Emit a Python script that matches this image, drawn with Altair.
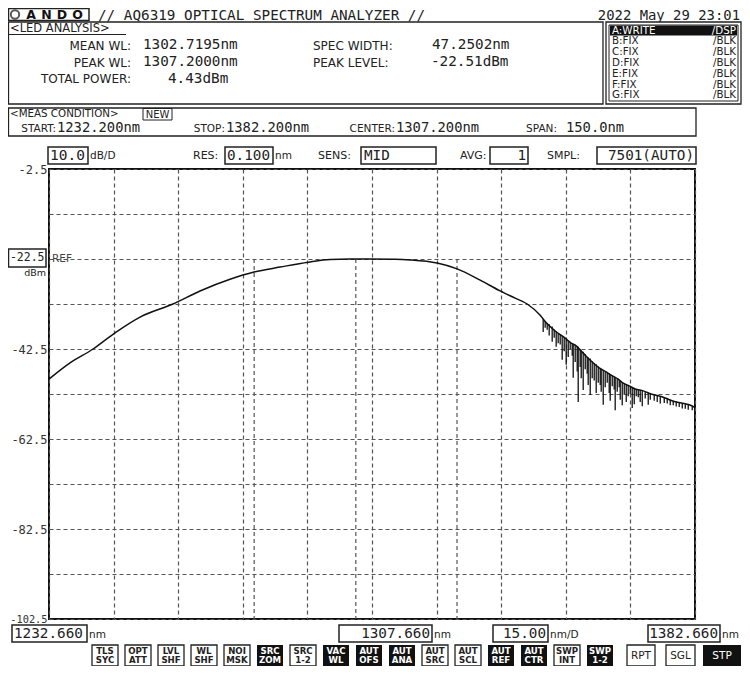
import altair as alt
import pandas as pd

# ------------------------------------------------------------------ data
wl_trace = [1232.66, 1237.54, 1242.88, 1247.99, 1253.80, 1261.46, 1267.73, 1274.70,
            1280.28, 1286.32, 1292.82, 1297.93, 1302.58, 1307.20, 1313.03, 1316.52,
            1322.79, 1327.43, 1332.78, 1337.42, 1340.90, 1343.69, 1346.71, 1347.87,
            1350.20, 1352.52, 1353.91, 1355.08, 1356.00, 1357.40, 1358.79, 1360.42,
            1362.04, 1363.21, 1364.83, 1365.99, 1367.39, 1368.78, 1370.64, 1372.50,
            1374.12, 1375.75, 1377.61, 1379.47, 1381.32, 1382.66]
dbm_trace = [-49.2, -45.6, -42.5, -38.9, -35.4, -32.5, -29.6, -27.0,
             -25.4, -24.3, -23.2, -22.6, -22.52, -22.51, -22.55, -22.7,
             -23.4, -24.7, -27.2, -29.6, -31.2, -32.5, -35.0, -36.4,
             -38.5, -40.1, -41.2, -41.8, -42.7, -44.1, -45.4, -46.7,
             -47.6, -48.3, -49.2, -50.1, -50.7, -51.4, -51.8, -52.5,
             -52.9, -53.4, -54.1, -54.5, -54.9, -55.5]

dip_wl = [1347.41, 1347.87, 1348.34, 1348.80, 1349.50, 1349.97, 1350.43, 1350.89, 1351.36, 1351.82,
          1352.29, 1352.75, 1353.22, 1353.68, 1354.15, 1354.38, 1354.84, 1355.31, 1355.54, 1356.00,
          1356.24, 1356.70, 1357.17, 1357.63, 1357.86, 1358.33, 1358.79, 1359.26, 1359.72, 1360.19,
          1360.65, 1360.88, 1361.35, 1361.81, 1362.28, 1362.74, 1362.97, 1363.44, 1363.90, 1364.13,
          1364.60, 1365.06, 1365.30, 1365.76, 1366.23, 1366.69, 1367.15, 1367.62, 1368.08, 1368.55,
          1369.01, 1369.48, 1369.94, 1370.41, 1371.10, 1371.80, 1372.27, 1373.19, 1373.89, 1374.59,
          1375.52, 1376.21, 1376.91, 1377.61, 1378.30, 1379.00, 1379.70, 1380.40, 1381.09, 1382.02]
dip_top = [-35.8, -36.4, -36.8, -37.0, -37.5, -38.2, -38.6, -39.0, -39.3, -39.6,
           -39.9, -40.3, -40.6, -40.9, -41.3, -41.4, -41.6, -41.9, -42.0, -42.5,
           -42.8, -43.1, -43.6, -44.3, -44.4, -44.6, -45.2, -45.6, -45.9, -46.4,
           -46.8, -47.0, -47.2, -47.5, -47.7, -47.9, -48.1, -48.4, -48.7, -48.8,
           -49.1, -49.4, -49.5, -49.9, -50.2, -50.4, -50.6, -50.8, -51.0, -51.2,
           -51.4, -51.5, -51.6, -51.7, -51.9, -52.2, -52.4, -52.6, -52.9, -53.0,
           -53.3, -53.5, -53.8, -54.0, -54.2, -54.4, -54.6, -54.8, -54.9, -55.2]
dip_bottom = [-38.7, -37.8, -38.2, -39.5, -40.9, -40.0, -42.0, -41.2, -41.5, -44.9,
              -43.0, -46.0, -44.3, -42.5, -44.0, -48.9, -45.4, -47.5, -54.3, -46.5,
              -49.0, -51.6, -47.0, -48.0, -50.5, -52.7, -49.0, -49.5, -52.3, -50.0,
              -50.5, -52.0, -54.9, -51.0, -50.0, -52.3, -54.0, -50.8, -51.5, -56.1,
              -52.0, -51.0, -53.8, -55.0, -52.5, -54.3, -53.0, -52.5, -55.6, -54.8,
              -53.0, -53.2, -54.3, -55.2, -53.5, -54.9, -53.8, -54.0, -54.3, -54.6,
              -54.5, -54.6, -55.0, -55.0, -55.3, -55.4, -55.7, -55.8, -56.0, -56.1]

marker_wl = [1280.3, 1303.9, 1327.4]

x_ticks = [1232.66, 1247.66, 1262.66, 1277.66, 1292.66, 1307.66,
           1322.66, 1337.66, 1352.66, 1367.66, 1382.66]
y_ticks = [-102.5, -92.5, -82.5, -72.5, -62.5, -52.5, -42.5, -32.5, -22.5, -12.5, -2.5]
y_label_vals = [-2.5, -42.5, -62.5, -82.5, -102.5]

led_labels = ["MEAN WL:", "PEAK WL:", "TOTAL POWER:"]
led_values = ["1302.7195nm", "1307.2000nm", "4.43dBm"]
led_labels2 = ["SPEC WIDTH:", "PEAK LEVEL:"]
led_values2 = ["47.2502nm", "-22.51dBm"]
traces = [("A:WRITE", "/DSP"), ("B:FIX", "/BLK"), ("C:FIX", "/BLK"), ("D:FIX", "/BLK"),
          ("E:FIX", "/BLK"), ("F:FIX", "/BLK"), ("G:FIX", "/BLK")]
buttons = [("TLS", "SYC", False), ("OPT", "ATT", False), ("LVL", "SHF", False),
           ("WL", "SHF", False), ("NOI", "MSK", False), ("SRC", "ZOM", True),
           ("SRC", "1-2", False), ("VAC", "WL", True), ("AUT", "OFS", True),
           ("AUT", "ANA", True), ("AUT", "SRC", False), ("AUT", "SCL", False),
           ("AUT", "REF", True), ("AUT", "CTR", True), ("SWP", "INT", False),
           ("SWP", "1-2", True)]

# ------------------------------------------------------------------ style
INK = "#222222"
GRID = "#555555"
LCD = "DejaVu Sans Mono"
SANS = "DejaVu Sans"
X0, Y0 = 49, 169          # page position of the plot-area origin
ONE = alt.Data(values=[{"o": 1}])

trace_df = pd.DataFrame({"wl": wl_trace, "dbm": dbm_trace})
dip_df = pd.DataFrame({"wl": dip_wl, "dbm": dip_top, "low": dip_bottom})
mark_df = pd.DataFrame({"wl": marker_wl})

x_axis = alt.Axis(values=x_ticks, grid=True, gridDash=[4, 3], gridColor=GRID, gridWidth=1.2,
                  labels=False, ticks=False, domain=False, title=None)
y_axis = alt.Axis(values=y_ticks, grid=True, gridDash=[4, 3], gridColor=GRID, gridWidth=1.2,
                  ticks=False, domain=False, title=None,
                  labelExpr="indexof(%s, datum.value) >= 0 ? '' + datum.value : ''" % str(y_label_vals),
                  labelFont=LCD,
                  labelFontSize={"condition": {"test": "datum.value < -100", "value": 10.3}, "value": 12},
                  labelColor="#333333", labelPadding=2,
                  labelOverlap=False, labelFlush=False, labelBound=False)
xs = alt.Scale(domain=[1232.66, 1382.66], nice=False, zero=False)
ys = alt.Scale(domain=[-102.5, -2.5], nice=False, zero=False)
X = alt.X("wl:Q", scale=xs, axis=x_axis)
Y = alt.Y("dbm:Q", scale=ys, axis=y_axis)

spectrum = alt.Chart(trace_df).mark_line(color="#111111", strokeWidth=1.5,
                                         interpolate="monotone").encode(x=X, y=Y)
dips = alt.Chart(dip_df).mark_rule(color="#111111", strokeWidth=1.3).encode(x=X, y=Y, y2="low:Q")
markers = alt.Chart(mark_df).mark_rule(color=GRID, strokeWidth=1.2, strokeDash=[4, 3]).encode(
    x=X, y=alt.datum(-22.5), y2=alt.datum(-102.5))

layers = [markers, spectrum, dips]


def box(x1, y1, x2, y2, fill="white", stroke=INK, sw=1.2):
    kw = dict(fill=fill)
    if stroke:
        kw.update(stroke=stroke, strokeWidth=sw)
    layers.append(alt.Chart(ONE).mark_rect(**kw).encode(
        x=alt.value(x1 - X0), x2=alt.value(x2 - X0), y=alt.value(y1 - Y0), y2=alt.value(y2 - Y0)))


def hline(x1, x2, y, sw=1.2):
    layers.append(alt.Chart(ONE).mark_rule(color=INK, strokeWidth=sw).encode(
        x=alt.value(x1 - X0), x2=alt.value(x2 - X0), y=alt.value(y - Y0)))


def txt(s, x, y, size=12.0, font=SANS, align="left", color=INK, weight="normal"):
    layers.append(alt.Chart(ONE).mark_text(text=s, font=font, fontSize=size, align=align,
                                           baseline="middle", color=color, fontWeight=weight).encode(
        x=alt.value(x - X0), y=alt.value(y - Y0)))


# ---------------- header
box(8.5, 8.5, 89, 20.5, sw=1.5)
layers.append(alt.Chart(ONE).mark_point(shape="circle", size=70, filled=False, strokeWidth=2,
                                        color="#111111").encode(x=alt.value(15 - X0), y=alt.value(14.5 - Y0)))
for ch, cx in zip("ANDO", [31, 46.5, 62, 77.5]):
    txt(ch, cx, 15, size=12.5, align="center", weight="bold", color="#111111")
txt("// AQ6319 OPTICAL SPECTRUM ANALYZER //", 98, 15.5, size=14.3, font=LCD)
txt("2022 May 29 23:01", 740, 15.5, size=13.9, font=LCD, align="right")

# ---------------- LED analysis box
box(8.5, 22, 603, 104, sw=1.3)
txt("<LED ANALYSIS>", 10, 28.5, size=11.5)
hline(9, 126, 34.5, sw=1)
for lab, yy in zip(led_labels, [46, 63, 79]):
    txt(lab, 131, yy, size=12, align="right")
for val, xx, yy in zip(led_values, [143, 143, 168], [45, 62, 79]):
    txt(val, xx, yy, size=14.3, font=LCD)
for lab, yy in zip(led_labels2, [46, 63]):
    txt(lab, 313, yy, size=12)
for val, xx, yy in zip(led_values2, [432, 431], [45, 62]):
    txt(val, xx, yy, size=14.3, font=LCD)

# ---------------- trace list box
box(606, 22, 741, 104, sw=1.3)
box(609, 25, 738, 101, sw=1)
box(610, 25.5, 737, 35.5, fill="#111111", stroke=None)
for i, (a, b) in enumerate(traces):
    yy = 30.5 + 10.8 * i
    c = "white" if i == 0 else INK
    txt(a, 612, yy, size=10.3, color=c)
    txt(b, 736, yy, size=10.3, color=c, align="right")

# ---------------- measurement condition box
box(8.5, 108, 696, 136, sw=1.3)
txt("<MEAS CONDITION>", 10, 114.3, size=10.3)
box(143, 108.5, 172, 120, sw=1)
txt("NEW", 157.5, 114.5, size=10, align="center")
txt("START:", 56, 128.8, size=10.5, align="right")
txt("1232.200nm", 57, 127.5, size=13.8, font=LCD)
txt("STOP:", 225, 128.8, size=10.5, align="right")
txt("1382.200nm", 226, 127.5, size=13.8, font=LCD)
txt("CENTER:", 395, 128.8, size=10.5, align="right")
txt("1307.200nm", 396, 127.5, size=13.8, font=LCD)
txt("SPAN:", 557, 128.8, size=10.5, align="right")
txt("150.0nm", 566, 127.5, size=13.8, font=LCD)

# ---------------- parameter row
box(48, 147, 88, 164, sw=1.5)
txt("10.0", 50, 155.5, size=14.5, font=LCD)
txt("dB/D", 90, 156, size=10.5)
txt("RES:", 193, 156, size=11)
box(225, 147, 273, 164, sw=1.5)
txt("0.100", 227, 155.5, size=14.3, font=LCD)
txt("nm", 275, 156, size=10.5)
txt("SENS:", 318, 156, size=11)
box(361, 147, 436, 164, sw=1.5)
txt("MID", 364, 155.5, size=14.3, font=LCD)
txt("AVG:", 460, 156, size=11)
box(490, 147, 528, 164, sw=1.5)
txt("1", 526, 155.5, size=14.3, font=LCD, align="right")
txt("SMPL:", 547, 156, size=11)
box(597, 147, 696, 164, sw=1.5)
txt("7501(AUTO)", 694, 155.5, size=14.3, font=LCD, align="right")

# ---------------- reference level marker
box(8.5, 249, 46, 267, sw=1.5)
txt("-22.5", 44.5, 258, size=11.5, font=LCD, align="right")
txt("dBm", 46, 273, size=9.5, align="right")
txt("REF", 52, 259, size=10.5, color="#444444")

# ---------------- bottom wavelength labels
BY1, BY2, BYC = 625, 642, 633.5
box(12, BY1, 87, BY2, sw=1.5)
txt("1232.660", 14, BYC, size=14.3, font=LCD)
txt("nm", 89, BYC + 1, size=10.5)
box(339, BY1, 432, BY2, sw=1.5)
txt("1307.660", 430, BYC, size=14.3, font=LCD, align="right")
txt("nm", 434, BYC + 1, size=10.5)
box(493, BY1, 548, BY2, sw=1.5)
txt("15.00", 546, BYC, size=14.3, font=LCD, align="right")
txt("nm/D", 550, BYC + 1, size=10.5)
box(648, BY1, 720, BY2, sw=1.5)
txt("1382.660", 718, BYC, size=14.3, font=LCD, align="right")
txt("nm", 722, BYC + 1, size=10.5)

# ---------------- soft-key buttons
KY1, KY2 = 645, 666
for k, (a, b, dark) in enumerate(buttons):
    x1 = 92 + 33 * k
    x2 = x1 + 26
    if dark:
        box(x1, KY1, x2, KY2, fill="#111111", stroke=None)
    else:
        box(x1, KY1, x2, KY2, sw=1.3)
    c = "white" if dark else INK
    txt(a, (x1 + x2) / 2, KY1 + 5.6, size=8.6, align="center", color=c, weight="bold")
    txt(b, (x1 + x2) / 2, KY1 + 15.2, size=8.6, align="center", color=c, weight="bold")
for lab, x1, x2, dark in [("RPT", 627, 655, False), ("SGL", 666, 695, False), ("STP", 703, 741, True)]:
    if dark:
        box(x1, KY1, x2, KY2, fill="#111111", stroke=None)
    else:
        box(x1, KY1, x2, KY2, sw=1.3)
    txt(lab, (x1 + x2) / 2, (KY1 + KY2) / 2, size=10.5, align="center", color="white" if dark else INK)

chart = alt.layer(*layers).properties(
    width=646, height=450,
    autosize=alt.AutoSizeParams(type="none"),
    padding={"left": 41, "top": 161, "right": 47, "bottom": 47},
    background="white",
).configure_view(stroke="#111111", strokeWidth=2)

chart.save("out.html", embed_options={"renderer": "svg", "actions": False})
